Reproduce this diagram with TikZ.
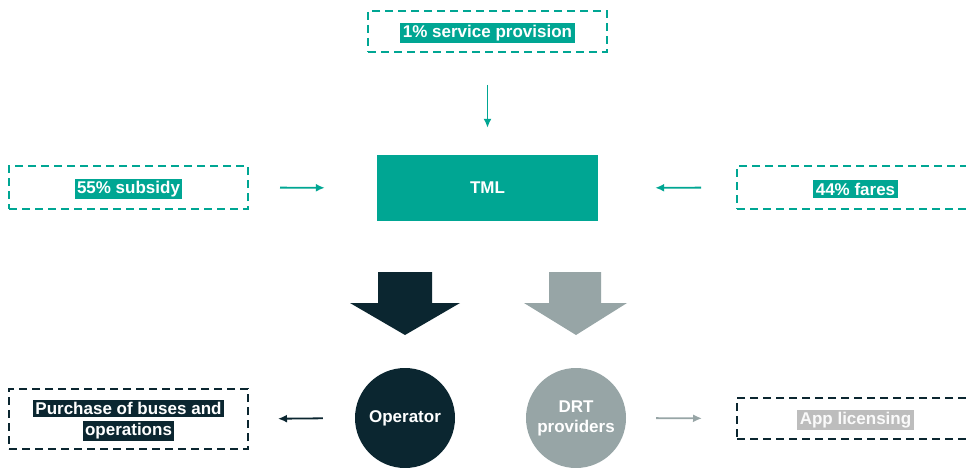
\documentclass[tikz,border=0pt]{standalone}
\usepackage{fontspec}
\setmainfont{Liberation Sans}
\usetikzlibrary{arrows.meta}
\definecolor{teal}{HTML}{00A693}
\definecolor{ink}{HTML}{0B2630}
\definecolor{slate}{HTML}{97A5A6}
\definecolor{lightslate}{HTML}{BDBDBD}
\setlength{\fboxsep}{2.5pt}
\newcommand{\tealhl}[1]{\colorbox{teal}{\textcolor{white}{#1}}}
\newcommand{\inkhl}[1]{\colorbox{ink}{\textcolor{white}{#1}}}
\newcommand{\slatehl}[1]{\colorbox{lightslate}{\textcolor{white!92!lightslate}{#1}}}
\tikzset{
  x=1pt, y=-1pt,
  every node/.style={font=\fontsize{17}{20}\selectfont\bfseries},
  dashbox/.style={draw=#1, line width=2pt, dash pattern=on 8pt off 5pt,
    minimum width=239pt, inner sep=0pt, align=center},
  hllabel/.style={inner sep=0pt, yshift=-1.5pt, align=center},
  flowarrow/.style={draw=#1, line width=1.8pt, -{Latex[length=9pt,width=8pt]}},
}
\begin{document}
\begin{tikzpicture}
\useasboundingbox (0,0) rectangle (966,468);
\fill[white] (0,0) rectangle (966,468);

% source boxes around the authority
\node[dashbox=teal, minimum height=41pt] (prov) at (487.5,31.5) {};
\node[hllabel] (provtext) at (prov.center) {\tealhl{1\% service provision}};
\node[fill=teal, minimum width=221pt, minimum height=66pt, text=white] (tml) at (487.5,188) {TML};
\node[dashbox=teal, minimum height=43pt] (sub) at (128.5,187.5) {};
\node[hllabel] (subtext) at (sub.center) {\tealhl{55\% subsidy}};
\node[dashbox=teal, minimum height=43pt, minimum width=250pt, anchor=west] (fares) at (736,187.5) {};
\node[hllabel] (farestext) at (855.5,187.5) {\tealhl{44\% fares}};

% inflows
\draw[flowarrow=teal, shorten <=32pt, shorten >=27pt] (prov.south) -- (tml.north);
\draw[flowarrow=teal, shorten <=31pt, shorten >=52pt] (sub.east) -- (tml.west);
\draw[flowarrow=teal, shorten <=35pt, shorten >=57pt] (fares.west) -- (tml.east);

% block arrows to the two operators
\fill[ink] (378,272) -- (432,272) -- (432,303) -- (460,303) -- (405,335)
  -- (350,303) -- (378,303) -- cycle;
\fill[slate] (549,272) -- (601,272) -- (601,303) -- (627,303) -- (576,335)
  -- (524,303) -- (549,303) -- cycle;

% operators
\node[circle, fill=ink, minimum size=100pt, inner sep=0pt, text=white] (op) at (405,418) {Operator};
\node[circle, fill=slate, minimum size=100pt, inner sep=0pt, text=white, align=center] (drt) at (576,418) {DRT\\providers};

% outflows
\node[dashbox=ink, minimum height=60pt] (buy) at (128.5,419) {};
\node[hllabel] (buytext) at (buy.center) {\inkhl{Purchase of buses and}\\[1pt]\inkhl{operations}};
\node[dashbox=ink, minimum height=41pt, minimum width=250pt, anchor=west] (app) at (736,418.5) {};
\node[hllabel] (apptext) at (855.5,418.5) {\slatehl{App licensing}};

\draw[flowarrow=ink, shorten <=32pt, shorten >=29pt] (op.west) -- (buy.east);
\draw[flowarrow=slate, shorten <=30pt, shorten >=34pt] (drt.east) -- (app.west);
\end{tikzpicture}
\end{document}
